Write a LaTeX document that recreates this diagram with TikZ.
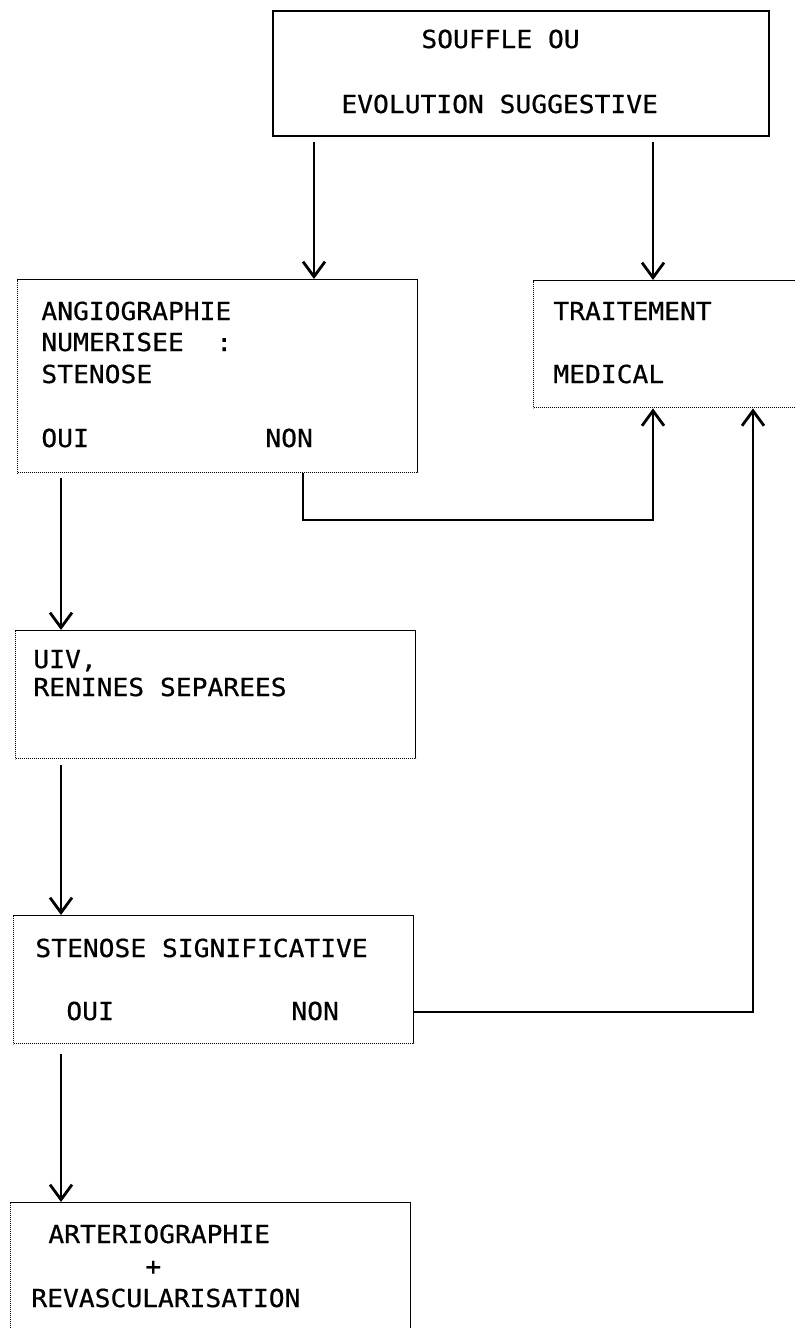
\documentclass[tikz,border=0pt]{standalone}
\usepackage{fontspec}
\newfontfamily\flowfont[FakeStretch=1.06,FakeBold=0.6]{DejaVu Sans Mono}
\usetikzlibrary{arrows.meta,positioning}

\begin{document}
\begin{tikzpicture}[x=0.5pt,y=-0.5pt,
    box/.style={draw,anchor=north west,inner sep=0pt,line width=0.7pt,dash pattern=on 0.7pt off 0.3pt},
    txt/.style={anchor=base west,inner sep=0pt,font=\flowfont\fontsize{12.4pt}{14pt}\selectfont},
    arr/.style={line width=1.4pt,-{Straight Barb[length=7.5pt,width=11pt,line width=1.4pt]}}]
  \fill[white] (0,0) rectangle (795,1328);
  \useasboundingbox (0,0) rectangle (795,1328);
  % boxes
  \node[box,solid,line width=1pt,minimum width=248pt,minimum height=62.5pt] (souffle) at (272,10) {};
  \node[box,minimum width=200pt,minimum height=96.5pt] (angio) at (17,279) {};
  \node[box,minimum width=133.5pt,minimum height=63.5pt] (trait) at (533,280) {};
  \node[box,minimum width=200pt,minimum height=64pt] (uiv) at (15,630) {};
  \node[box,minimum width=200pt,minimum height=64pt] (sten) at (13,915) {};
  \node[box,minimum width=200pt,minimum height=70pt] (arterio) at (10,1202) {};
  % texts
  \foreach \n/\x/\y/\t in {soufA/421/48/{SOUFFLE OU}, soufB/341/113/{EVOLUTION SUGGESTIVE},
      angA/41/320/ANGIOGRAPHIE, angB/41/351/NUMERISEE, angC/216/351/{:}, angD/41/383/STENOSE,
      angOui/41/447/OUI, angNon/265/447/NON, trA/553/320/TRAITEMENT, trB/553/383/MEDICAL,
      uivA/33/668/{UIV,}, uivB/33/696/{RENINES SEPAREES},
      stA/35/957/{STENOSE SIGNIFICATIVE}, stOui/66/1020/OUI, stNon/291/1020/NON,
      arA/48/1243/ARTERIOGRAPHIE, arB/145/1275/{+}, arC/31/1307/REVASCULARISATION}
    \node[txt] (\n) at (\x,\y) {\t};
  % connectors
  \coordinate (xa) at (314,0);
  \coordinate (xb) at (653,0);
  \coordinate (xc) at (61,0);
  \coordinate (xd) at (303,520);
  \coordinate (xe) at (753,1012);
  \draw[arr] (souffle.south -| xa) ++(0,5) -- (angio.north -| xa);
  \draw[arr] (souffle.south -| xb) ++(0,5) -- (trait.north -| xb);
  \draw[arr] (angio.south -| xc) ++(0,5) -- (uiv.north -| xc);
  \draw[arr] (uiv.south -| xc) ++(0,6) -- (sten.north -| xc);
  \draw[arr] (sten.south -| xc) ++(0,10) -- (arterio.north -| xc);
  \draw[arr] (angio.south -| xd) -- (xd) -| (trait.south -| xb);
  \draw[arr,line width=1.1pt] (sten.east |- xe) -- (xe) -- (trait.south -| xe);
\end{tikzpicture}
\end{document}
